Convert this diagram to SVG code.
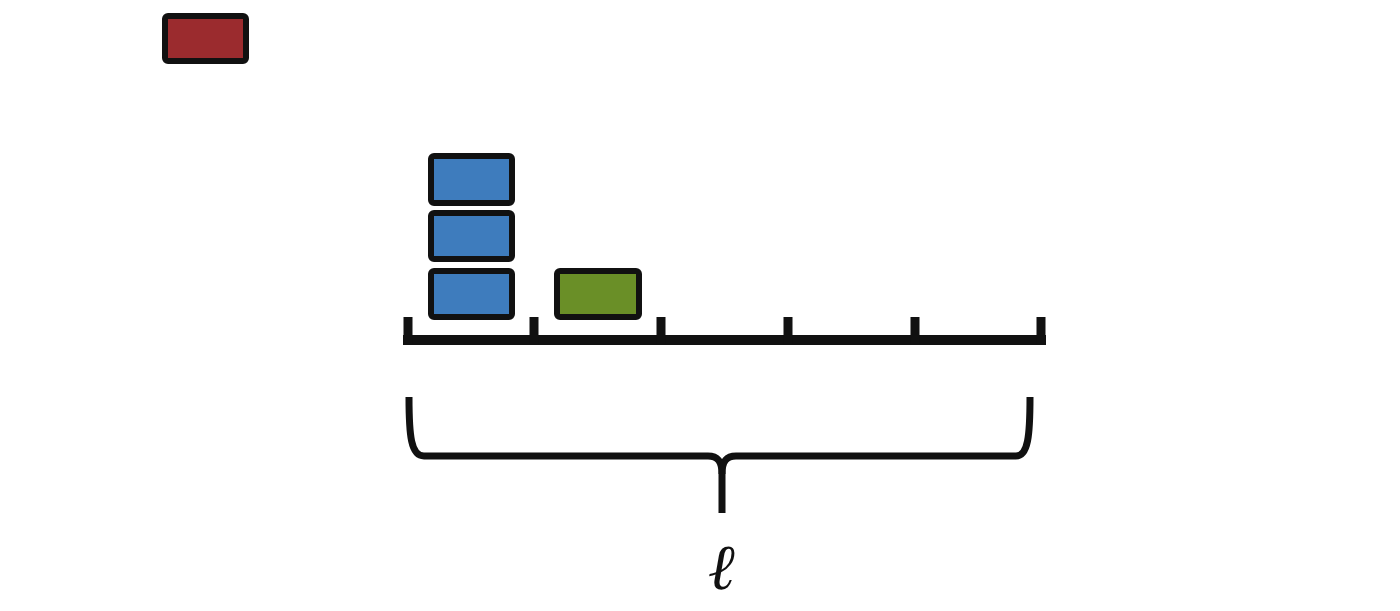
<svg xmlns="http://www.w3.org/2000/svg" width="1400" height="611" viewBox="0 0 1400 611">
<style>
.box{stroke:#111;stroke-width:6;stroke-linejoin:round}
.red{fill:#9B2B2E}
.blue{fill:#3E7CBD}
.green{fill:#6A8F27}
.line{stroke:#111;fill:none}
.lbl{font-family:"DejaVu Serif","Liberation Serif",serif;font-style:italic;font-size:64px;fill:#111}
</style>
<rect width="1400" height="611" fill="#fff"/>
<g id="red-block"><rect class="box red" x="165" y="16" width="81" height="45" rx="3"/></g>
<g id="blue-block-3"><rect class="box blue" x="431" y="156" width="81" height="47" rx="3"/></g>
<g id="blue-block-2"><rect class="box blue" x="431" y="213" width="81" height="46" rx="3"/></g>
<g id="blue-block-1"><rect class="box blue" x="431" y="271" width="81" height="46" rx="3"/></g>
<g id="green-block"><rect class="box green" x="557" y="271" width="82" height="46" rx="3"/></g>
<g id="axis">
<path class="line" stroke-width="10" d="M403,340 H1046"/>
<path class="line" stroke-width="9" d="M408,317 V344 M534,317 V344 M661,317 V344 M788,317 V344 M915,317 V344 M1041,317 V344"/>
</g>
<g id="brace">
<path class="line" stroke-width="7" d="M409,397 C409,436 411,456 424,456 L708,456 C718,456 722,462 722,474 L722,513"/>
<path class="line" stroke-width="7" d="M722,474 C722,462 726,456 736,456 L1016,456 C1028,456 1030,436 1030,397"/>
</g>
<g id="label"><text class="lbl" x="721" y="589" text-anchor="middle">ℓ</text></g>
</svg>
